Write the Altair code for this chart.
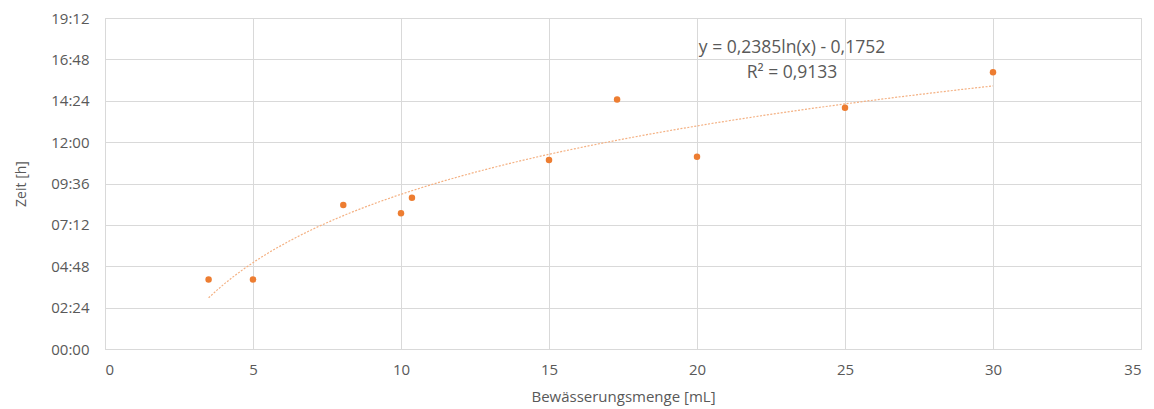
import altair as alt
import pandas as pd

# Bewässerungsmenge [mL]
menge = [3.5, 5, 8.05, 10, 10.37, 15, 17.3, 20, 25, 30]
# Zeit as fraction of a day
zeit = [0.168, 0.168, 0.348, 0.328, 0.3655, 0.457, 0.603, 0.4645, 0.583, 0.669]

x_ticks = [0, 5, 10, 15, 20, 25, 30, 35]
y_ticks = [0, 0.1, 0.2, 0.3, 0.4, 0.5, 0.6, 0.7, 0.8]

eq_line1 = "y = 0,2385ln(x) - 0,1752"
eq_line2 = "R² = 0,9133"

df = pd.DataFrame({"x": menge, "y": zeit})

FONT = "Open Sans"
GREY = "#595959"
GRID = "#d9d9d9"
ORANGE = "#ED7D31"

xenc = alt.X("x:Q", scale=alt.Scale(domain=[0, 35], nice=False, zero=True),
             axis=alt.Axis(values=x_ticks, title="Bewässerungsmenge [mL]", grid=True,
                           gridColor=GRID, domain=True, domainColor=GRID, ticks=False,
                           labelPadding=13, labelFontSize=15, labelColor=GREY, labelFont=FONT,
                           titleFont=FONT, titleFontSize=15, titleColor=GREY,
                           titleFontWeight="normal", titlePadding=12))
yenc = alt.Y("y:Q", scale=alt.Scale(domain=[0, 0.8], nice=False),
             axis=alt.Axis(values=y_ticks, title="Zeit [h]", grid=True, gridColor=GRID,
                           domain=False, ticks=False,
                           labelExpr="utcFormat(round(datum.value*1440)*60000, '%H:%M')",
                           labelPadding=16, labelFontSize=15, labelColor=GREY, labelFont=FONT,
                           titleFont=FONT, titleFontSize=14, titleColor=GREY,
                           titleFontWeight="normal", titlePadding=22))

points = alt.Chart(df).mark_circle(size=42, color=ORANGE, opacity=1).encode(x=xenc, y=yenc)

trend = alt.Chart(df).transform_regression(
    "x", "y", method="log", extent=[3.5, 30]
).mark_line(color="#F4B183", strokeWidth=1.2, strokeDash=[2, 1.5]).encode(x="x:Q", y="y:Q")

eq1 = alt.Chart(pd.DataFrame({"t": [eq_line1]})).mark_text(
    font=FONT, fontSize=17.5, color=GREY, align="center", baseline="middle"
).encode(x=alt.value(687), y=alt.value(30), text="t:N")
eq2 = alt.Chart(pd.DataFrame({"t": [eq_line2]})).mark_text(
    font=FONT, fontSize=17.5, color=GREY, align="center", baseline="middle"
).encode(x=alt.value(687), y=alt.value(55), text="t:N")

chart = alt.layer(trend, points, eq1, eq2).properties(
    width=1036, height=331,
    autosize=alt.AutoSizeParams(type="none"),
    padding={"left": 97, "top": 10, "right": 5, "bottom": 58},
).configure_view(stroke=None).configure(background="white")

chart.save("out.html", embed_options={"renderer": "svg", "actions": False})
